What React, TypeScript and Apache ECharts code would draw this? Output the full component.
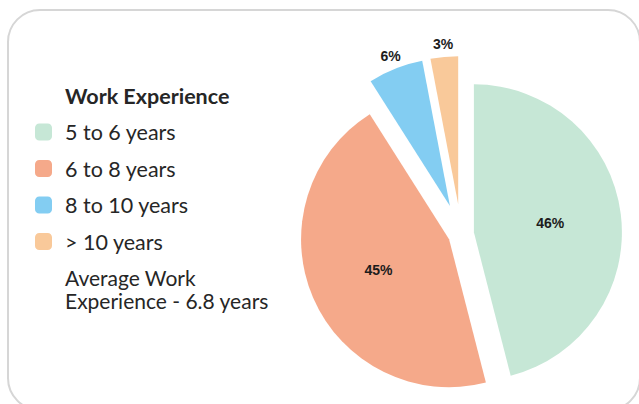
import React, { useEffect, useRef } from "react";
import * as echarts from "echarts";

const categories = ["5 to 6 years", "6 to 8 years", "8 to 10 years", "> 10 years"];
const shares = [46, 45, 6, 3];
const colors = ["#c6e7d6", "#f5a98a", "#83cdf2", "#f9c99a"];
const nearGroup = [true, true, false, false]; // slices pulled out a little
const legendTitle = "Work Experience";
const noteLines = ["Average Work", "Experience - 6.8 years"];

const FONT = "Lato, 'Open Sans', sans-serif";
const LABEL_FONT = "'Liberation Sans', Arial, sans-serif";

export default function App() {
  const ref = useRef<HTMLDivElement>(null);
  useEffect(() => {
    document.body.style.margin = "0";
    if (!ref.current) return;
    const chart = echarts.init(ref.current, null, { renderer: "svg" });
    const center = [461, 234];
    const labelStyle = {
      show: true,
      position: "inside",
      formatter: "{c}%",
      fontFamily: LABEL_FONT,
      fontWeight: "bold",
      fontSize: 14,
      color: "#1c1c1c",
    };
    const mkData = (visibleNear: boolean, showColor: boolean, withLabel: boolean) =>
      categories.map((name, i) => {
        const mine = nearGroup[i] === visibleNear;
        return {
          name,
          value: shares[i],
          selected: mine,
          itemStyle: { color: mine && showColor ? colors[i] : "rgba(0,0,0,0)" },
          label: mine && withLabel ? labelStyle : { show: false },
        };
      });
    const base = {
      type: "pie",
      center,
      startAngle: 90,
      clockwise: true,
      selectedMode: "multiple",
      silent: true,
      emphasis: { disabled: true },
      labelLine: { show: false },
      avoidLabelOverlap: false,
    };
    chart.setOption({
      animation: false,
      backgroundColor: "#ffffff",
      legend: {
        orient: "vertical",
        left: 30,
        top: 116,
        icon: "roundRect",
        itemWidth: 17,
        itemHeight: 17,
        itemGap: 14.5,
        selectedMode: false,
        data: categories.map((name, i) => ({ name, itemStyle: { color: colors[i] } })),
        textStyle: {
          fontFamily: FONT,
          fontSize: 21.5,
          lineHeight: 20,
          color: "#262626",
          padding: [0, 0, 0, 8],
        },
      },
      graphic: [
        {
          type: "rect",
          shape: { x: 8, y: 10, width: 632, height: 400, r: 32 },
          style: { fill: "none", stroke: "#d6d6d6", lineWidth: 2 },
          silent: true,
        },
        {
          type: "text",
          left: 65,
          top: 85,
          style: {
            text: legendTitle,
            fontFamily: FONT,
            fontWeight: "bold",
            fontSize: 21.5,
            fill: "#262626",
          },
        },
        ...noteLines.map((t, i) => ({
          type: "text",
          left: 65,
          top: 267 + i * 23,
          style: {
            text: t,
            fontFamily: FONT,
            fontSize: 21,
            lineHeight: 21,
            fill: "#262626",
          },
        })),
      ],
      series: [
        { ...base, radius: [0, 148], selectedOffset: 13, data: mkData(true, true, true) },
        { ...base, radius: [0, 148], selectedOffset: 30, data: mkData(false, true, false) },
        { ...base, radius: [148, 168], selectedOffset: 30, data: mkData(false, false, true) },
      ],
    });
    return () => chart.dispose();
  }, []);
  return <div ref={ref} style={{ width: 639, height: 404 }} />;
}
